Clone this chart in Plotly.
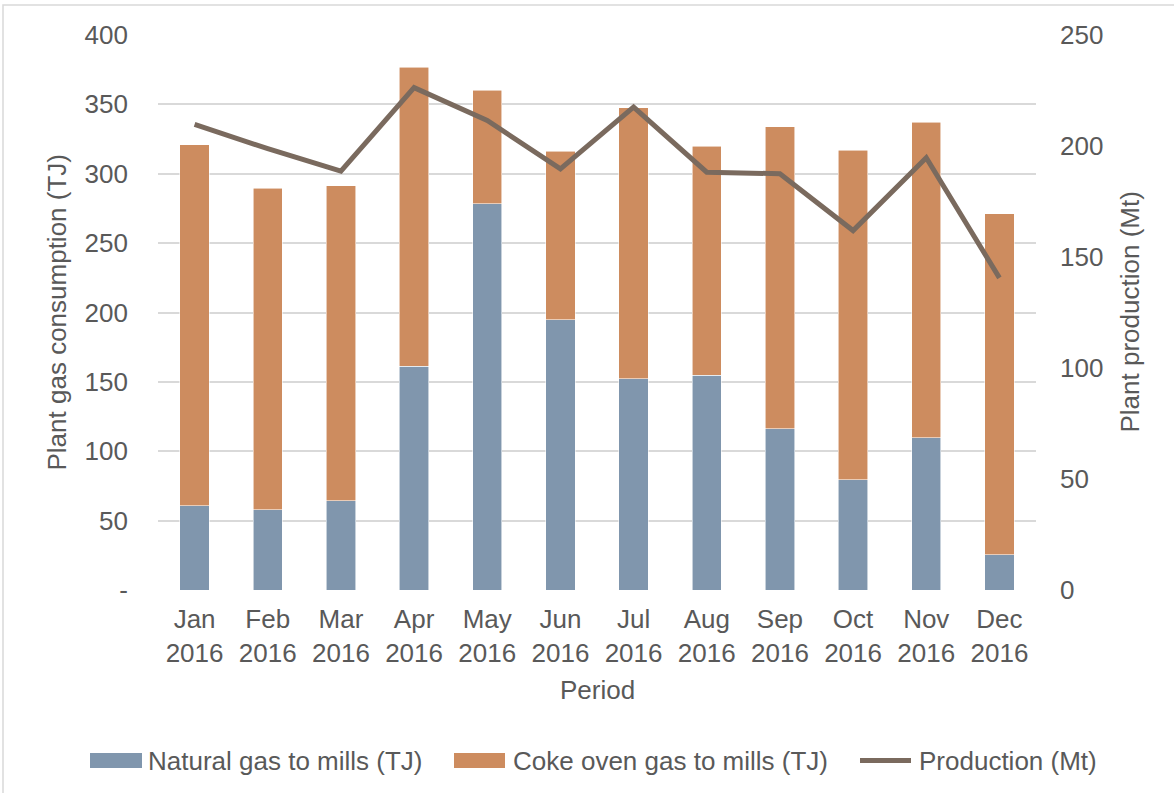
import plotly.graph_objects as go

months = ["Jan 2016", "Feb 2016", "Mar 2016", "Apr 2016", "May 2016", "Jun 2016",
          "Jul 2016", "Aug 2016", "Sep 2016", "Oct 2016", "Nov 2016", "Dec 2016"]
tick_text = ["Jan<br>2016", "Feb<br>2016", "Mar<br>2016", "Apr<br>2016", "May<br>2016", "Jun<br>2016",
             "Jul<br>2016", "Aug<br>2016", "Sep<br>2016", "Oct<br>2016", "Nov<br>2016", "Dec<br>2016"]
natural_gas = [60.9, 58.0, 64.5, 161.1, 278.4, 194.7, 152.2, 154.8, 116.4, 79.6, 109.9, 25.5]
coke_oven_gas = [260.0, 231.6, 226.8, 215.8, 81.7, 121.4, 195.4, 165.1, 217.5, 237.2, 227.3, 245.6]
production = [209.7, 198.8, 188.7, 226.3, 211.5, 189.7, 217.5, 188.2, 187.5, 161.9, 194.7, 140.6]

left_ticks = [0, 50, 100, 150, 200, 250, 300, 350, 400]
left_tick_text = ["-", "50", "100", "150", "200", "250", "300", "350", "400"]
right_ticks = [0, 50, 100, 150, 200, 250]

C_NAT = "#8096ad"
C_COKE = "#cd8c5f"
C_LINE = "#7a6a5e"
TXT = "#595959"
FONT = "Liberation Sans, Arial, sans-serif"
FS = 26

fig = go.Figure()
fig.add_trace(go.Bar(x=months, y=natural_gas, name="Natural gas to mills (TJ)",
                     marker=dict(color=C_NAT, line=dict(color="rgba(255,255,255,0.7)", width=0.8)),
                     showlegend=False))
fig.add_trace(go.Bar(x=months, y=coke_oven_gas, name="Coke oven gas to mills (TJ)",
                     marker=dict(color=C_COKE, line=dict(color="rgba(255,255,255,0.7)", width=0.8)),
                     showlegend=False))
fig.add_trace(go.Scatter(x=months, y=production, name="Production (Mt)", yaxis="y2",
                         mode="lines", line=dict(color=C_LINE, width=5),
                         showlegend=False))

L, R, T, B = 158, 1036, 35, 590
W, H = 1174, 793
def xp(px):
    return (px - L) / (R - L)
def yp(py):
    return (B - py) / (B - T)

shapes = [
    # outer chart border
    dict(type="rect", xref="paper", yref="paper", x0=xp(3), x1=xp(1185), y0=yp(5), y1=yp(805),
         line=dict(color="#d9d9d9", width=1.5), fillcolor="rgba(0,0,0,0)", layer="below"),
    # legend swatches
    dict(type="rect", xref="paper", yref="paper", x0=xp(90), x1=xp(142), y0=yp(768), y1=yp(753),
         line=dict(width=0), fillcolor=C_NAT),
    dict(type="rect", xref="paper", yref="paper", x0=xp(454), x1=xp(505), y0=yp(768), y1=yp(753),
         line=dict(width=0), fillcolor=C_COKE),
    dict(type="line", xref="paper", yref="paper", x0=xp(860), x1=xp(911), y0=yp(760.5), y1=yp(760.5),
         line=dict(color=C_LINE, width=5)),
]

annotations = [
    dict(text="Natural gas to mills (TJ)", xref="paper", yref="paper", x=xp(146), y=yp(760.5),
         xanchor="left", yanchor="middle", showarrow=False, font=dict(family=FONT, size=FS, color=TXT)),
    dict(text="Coke oven gas to mills (TJ)", xref="paper", yref="paper", x=xp(511), y=yp(760.5),
         xanchor="left", yanchor="middle", showarrow=False, font=dict(family=FONT, size=FS, color=TXT)),
    dict(text="Production (Mt)", xref="paper", yref="paper", x=xp(917), y=yp(760.5),
         xanchor="left", yanchor="middle", showarrow=False, font=dict(family=FONT, size=FS, color=TXT)),
    dict(text="Period", xref="paper", yref="paper", x=xp(597), y=yp(690),
         xanchor="center", yanchor="middle", showarrow=False, font=dict(family=FONT, size=FS, color=TXT)),
    dict(text="Plant gas consumption (TJ)", xref="paper", yref="paper", x=xp(56), y=0.5,
         xanchor="center", yanchor="middle", textangle=-90, showarrow=False,
         font=dict(family=FONT, size=FS, color=TXT)),
    dict(text="Plant production (Mt)", xref="paper", yref="paper", x=xp(1129), y=0.5,
         xanchor="center", yanchor="middle", textangle=-90, showarrow=False,
         font=dict(family=FONT, size=FS, color=TXT)),
]

fig.update_layout(
    width=W, height=H,
    margin=dict(l=L, r=W - R, t=T, b=H - B, pad=0),
    barmode="stack", bargap=0.6,
    paper_bgcolor="white", plot_bgcolor="white",
    font=dict(family=FONT, size=FS, color=TXT),
    xaxis=dict(tickmode="array", tickvals=months, ticktext=tick_text,
               showgrid=False, showline=False, zeroline=False, ticks="",
               ticklabelstandoff=11, tickfont=dict(family=FONT, size=FS, color=TXT)),
    yaxis=dict(range=[0, 400], tickmode="array", tickvals=left_ticks, ticktext=left_tick_text,
               showgrid=True, gridcolor="#d9d9d9", gridwidth=1.5, zeroline=False, showline=False,
               ticks="", ticklabelstandoff=29, tickfont=dict(family=FONT, size=FS, color=TXT)),
    yaxis2=dict(range=[0, 250], overlaying="y", side="right", tickmode="array", tickvals=right_ticks,
                showgrid=False, zeroline=False, showline=False, ticks="", ticklabelstandoff=23,
                tickfont=dict(family=FONT, size=FS, color=TXT)),
    shapes=shapes, annotations=annotations,
    showlegend=False,
)

fig.write_html("out.html", config={"displayModeBar": False},
               post_script="document.body.style.margin='0';document.body.style.overflow='hidden';")
